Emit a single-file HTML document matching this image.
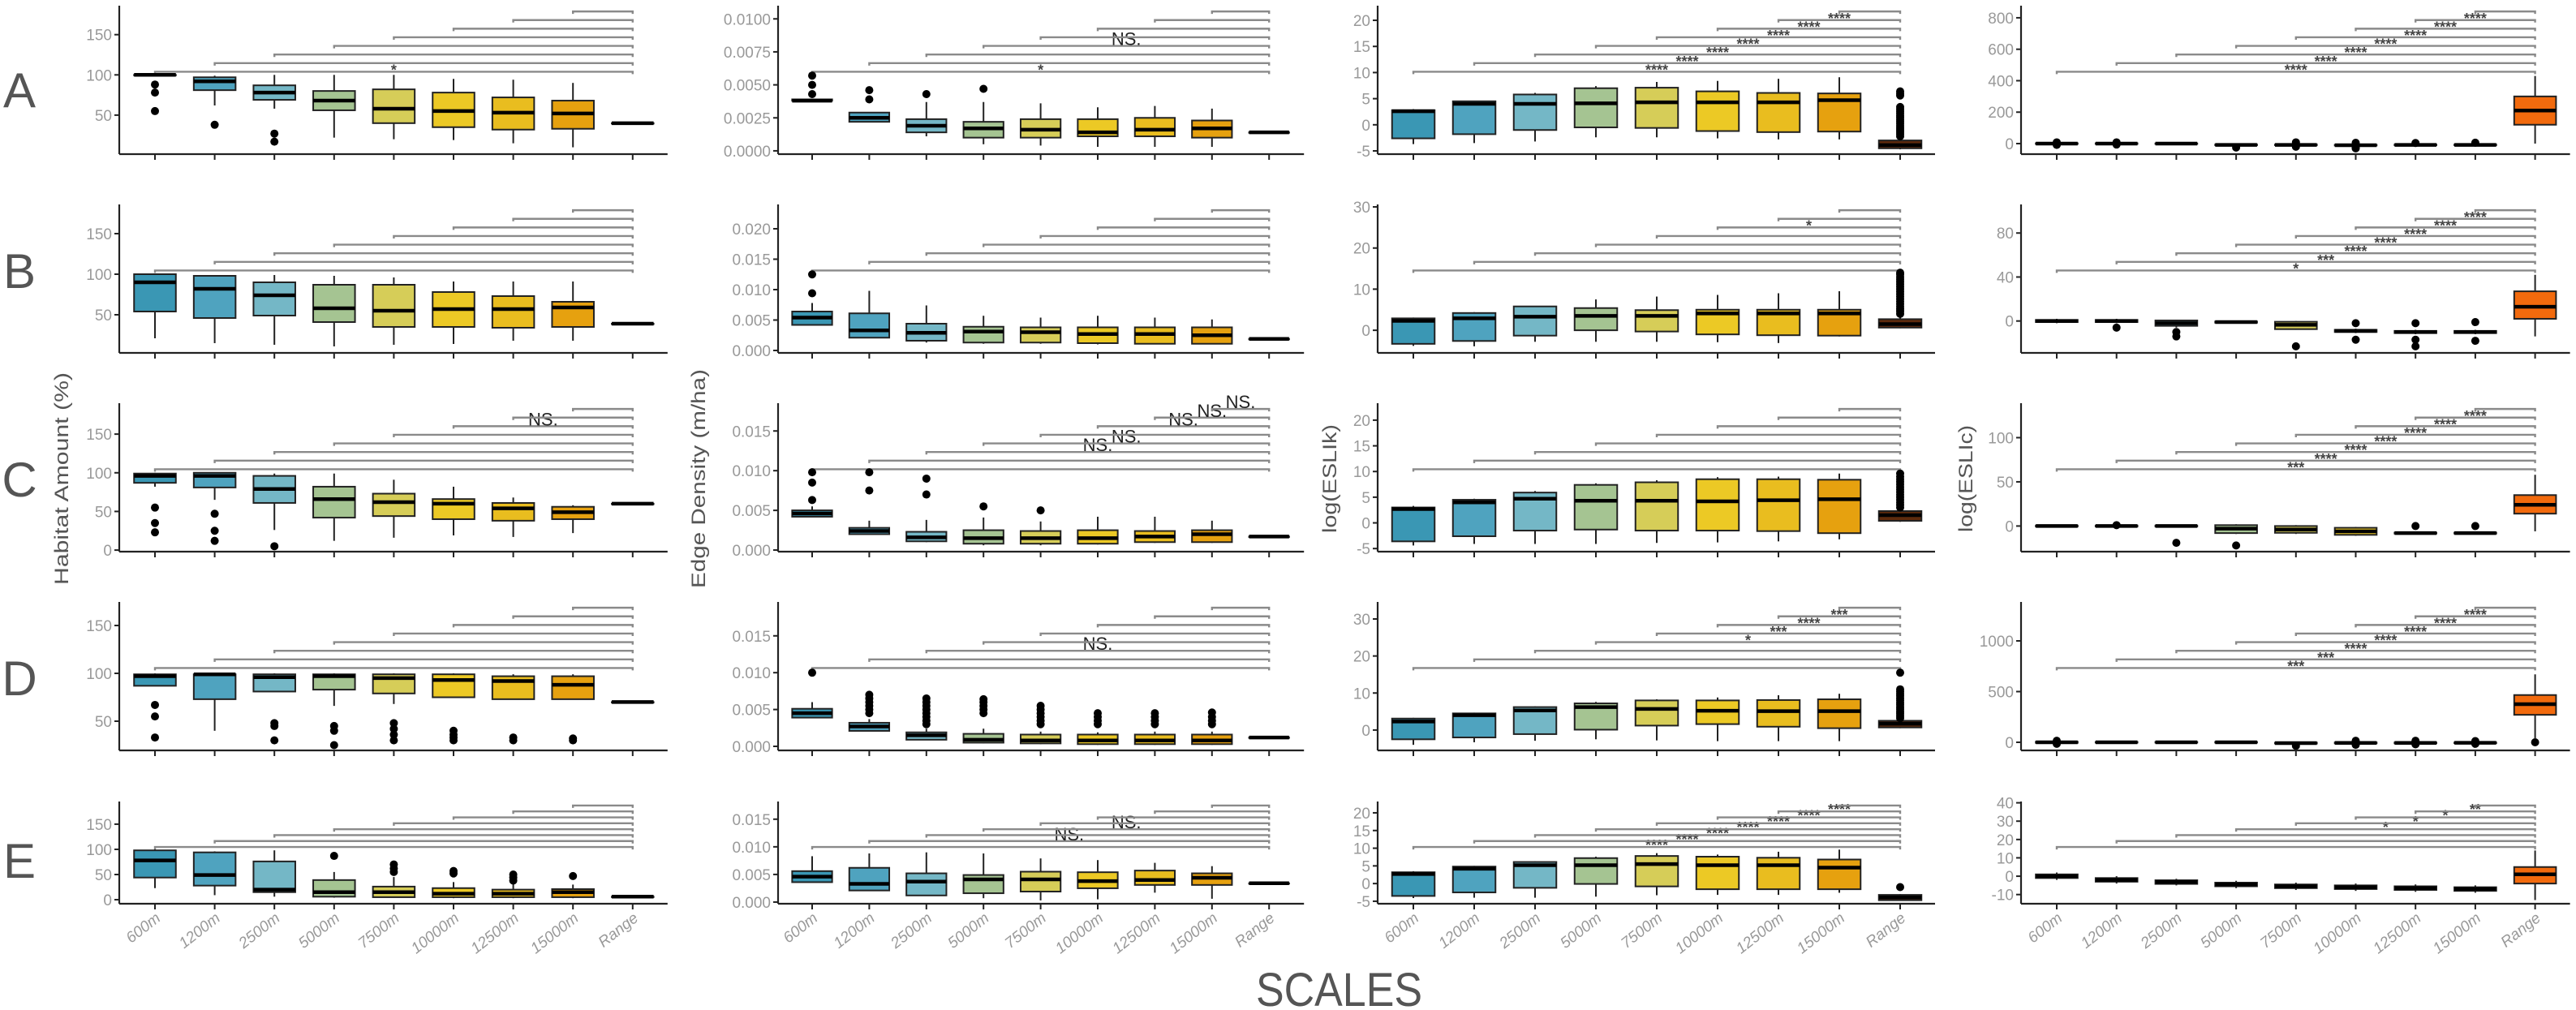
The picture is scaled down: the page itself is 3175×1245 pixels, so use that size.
<!DOCTYPE html>
<html><head><meta charset="utf-8"><title>Boxplots by scale</title>
<style>html,body{margin:0;padding:0;background:#fff;}svg{display:block;}</style></head>
<body>
<svg id="chart" xmlns="http://www.w3.org/2000/svg" width="3175" height="1245" viewBox="0 0 3175 1245" font-family="Liberation Sans, DejaVu Sans, sans-serif">
<rect width="3175" height="1245" fill="#fff"/>
<text x="24" y="132" font-size="60" fill="#555" text-anchor="middle">A</text>
<text x="24" y="355" font-size="60" fill="#555" text-anchor="middle">B</text>
<text x="24" y="612" font-size="60" fill="#555" text-anchor="middle">C</text>
<text x="24" y="857" font-size="60" fill="#555" text-anchor="middle">D</text>
<text x="24" y="1082" font-size="60" fill="#555" text-anchor="middle">E</text>
<text transform="translate(84,590) rotate(-90)" font-size="24" fill="#555" text-anchor="middle" textLength="262" lengthAdjust="spacingAndGlyphs">Habitat Amount (%)</text>
<text transform="translate(869,590) rotate(-90)" font-size="24" fill="#555" text-anchor="middle" textLength="270" lengthAdjust="spacingAndGlyphs">Edge Density (m/ha)</text>
<text transform="translate(1647,590) rotate(-90)" font-size="24" fill="#555" text-anchor="middle" textLength="134" lengthAdjust="spacingAndGlyphs">log(ESLIk)</text>
<text transform="translate(2431,590) rotate(-90)" font-size="24" fill="#555" text-anchor="middle" textLength="132" lengthAdjust="spacingAndGlyphs">log(ESLIc)</text>
<text x="1548" y="1240" font-size="58" fill="#555" textLength="205" lengthAdjust="spacingAndGlyphs">SCALES</text>
<g id="panels"></g>
</svg>
<script>
const groups = ['600m','1200m','2500m','5000m','7500m','10000m','12500m','15000m','Range'];

// ---- Row A ----
const statsA0 = [[100,99.5,100,100,100],[62,81,92,97,99],[58,69,78,87,100],[22,56,68,80,100],[20,40,58,82,100],[19,35,55,78,95],[15,32,53,72,94],[10,33,52,68,90],[40,40,40,40,40]];
const outA0 = [[88,78,55],[38],[27,17],[],[],[],[],[],[]];
const statsA1 = [[0.0038,0.0038,0.0038,0.0039,0.0039],[0.0022,0.0022,0.0025,0.0029,0.0029],[0.0011,0.0014,0.0019,0.0024,0.0037],[0.0005,0.001,0.0017,0.0022,0.0037],[0.0004,0.001,0.0016,0.0024,0.0036],[0.0003,0.0011,0.0014,0.0024,0.0033],[0.0003,0.0011,0.0016,0.0025,0.0034],[0.0003,0.001,0.0017,0.0023,0.0032],[0.0014,0.0014,0.0014,0.0014,0.0014]];
const outA1 = [[0.0057,0.005,0.0043],[0.0046,0.0039],[0.0043],[0.0047],[],[],[],[],[]];
const statsA2 = [[-3.7,-2.6,2.6,2.8,3.0],[-3.5,-1.8,4.0,4.5,4.6],[-3.2,-1.0,4.0,5.8,6.1],[-2.4,-0.5,4.1,7.0,7.4],[-2.4,-0.6,4.3,7.1,8.2],[-2.6,-1.2,4.3,6.4,8.4],[-2.8,-1.4,4.3,6.1,8.8],[-2.8,-1.3,4.7,6.0,9.1],[-4.7,-4.5,-3.9,-3.0,-2.6]];
const outA2 = [[],[],[],[],[],[],[],[],[-2.2,-1.8,-1.4,-1,-0.6,-0.2,0.2,0.6,1,1.4,1.8,2.2,2.6,3,3.4,5.6,6,6.4]];
const statsA3 = [[-4,-2,0,2,4],[-4,-2,0,2,4],[-3,-2,0,1,3],[-12,-10,-8,-6,-4],[-12,-10,-8,-6,-4],[-14,-12,-10,-8,-6],[-12,-10,-8,-6,-4],[-12,-10,-8,-6,-4],[0,120,210,300,430]];
const outA3 = [[8,-8],[8,-6],[],[-25],[8,-20],[5,-25,-30],[4],[6],[]];

// ---- Row B ----
const statsB0 = [[21,54,90,100,100],[15,46,82,98,99],[13,49,74,90,99],[11,41,58,87,98],[13,35,55,87,96],[14,35,57,78,91],[18,34,57,73,91],[18,35,59,66,91],[39,39,39,39,39]];
const outB0 = [[],[],[],[],[],[],[],[],[]];
const statsB1 = [[0.0042,0.0042,0.0054,0.0064,0.0078],[0.0021,0.0021,0.0033,0.0061,0.0098],[0.0013,0.0016,0.0029,0.0044,0.0074],[0.0011,0.0013,0.0031,0.0039,0.0057],[0.0011,0.0013,0.003,0.0038,0.0054],[0.001,0.0012,0.0027,0.0038,0.0057],[0.001,0.0011,0.0027,0.0038,0.0054],[0.001,0.0011,0.0025,0.0038,0.0051],[0.0019,0.0019,0.0019,0.0019,0.0019]];
const outB1 = [[0.0094,0.0125],[],[],[],[],[],[],[],[]];
const statsB2 = [[-3.8,-3.3,2.3,2.9,3.1],[-3.9,-2.6,2.9,4.2,4.4],[-2.8,-1.3,3.3,5.8,5.9],[-2.8,0,3.5,5.4,7.5],[-2.8,-0.3,3.5,4.9,8.2],[-2.9,-1.0,4.1,5.0,8.6],[-3.1,-1.2,4.1,5.0,9.0],[-1.5,-1.3,4.1,5.0,9.5],[0.5,0.65,1.5,2.7,3.6]];
const outB2 = [[],[],[],[],[],[],[],[],[4,4.6,5.2,5.8,6.4,7,7.6,8.2,8.8,9.4,10,10.6,11.2,11.8,12.4,13,13.6,14]];
const statsB3 = [[-2,-1,0,1,2],[-2,-1,0,1,2],[-6,-4.4,-2,0.5,1],[-2,-1.5,-1,-0.5,0],[-8,-7.4,-3.5,-0.7,0],[-11,-10,-9,-8,-7],[-12,-11,-10,-9,-8],[-12,-11,-10,-9,-8],[-14,2,13,27,42]];
const outB3 = [[],[-6],[-10,-14],[],[-23],[-2,-17],[-2,-17,-23],[-1,-18],[]];

// ---- Row C ----
const statsC0 = [[82,87,96,99,100],[65,81,96,100,100],[26,61,79,96,99],[12,42,66,82,99],[16,44,62,73,91],[19,40,60,66,82],[17,38,54,61,68],[22,40,49,56,58],[60,60,60,60,60]];
const outC0 = [[55,35,23],[47,25,12],[5],[],[],[],[],[],[]];
const statsC1 = [[0.0042,0.0042,0.0046,0.005,0.0055],[0.002,0.002,0.0024,0.0028,0.0037],[0.001,0.0011,0.0016,0.0023,0.0038],[0.0006,0.0008,0.0015,0.0025,0.0041],[0.0006,0.0008,0.0015,0.0024,0.0036],[0.0007,0.0008,0.0015,0.0025,0.0042],[0.0009,0.001,0.0017,0.0024,0.0042],[0.0009,0.001,0.002,0.0025,0.0037],[0.0017,0.0017,0.0017,0.0017,0.0017]];
const outC1 = [[0.0063,0.0085,0.0098],[0.0075,0.0098],[0.007,0.009],[0.0055],[0.005],[],[],[],[]];
const statsC2 = [[-4.4,-3.6,2.7,3.0,3.3],[-4.1,-2.6,4.0,4.5,4.7],[-4.1,-1.5,4.7,5.9,6.2],[-4.1,-1.3,4.3,7.4,7.7],[-3.9,-1.5,4.3,7.9,8.3],[-3.8,-1.5,4.2,8.5,8.9],[-3.6,-1.6,4.4,8.5,9.0],[-3.2,-2.0,4.6,8.4,9.6],[0.2,0.4,1.5,2.3,2.6]];
const outC2 = [[],[],[],[],[],[],[],[],[3,3.5,4,4.5,5,5.5,6,6.5,7,7.5,8,8.5,9,9.6]];
const statsC3 = [[-1,-0.5,0,0.5,1],[-1,-0.5,0,0.5,1],[-1,-0.5,0,0.5,1],[-9,-8,-3,1,2],[-9,-7.7,-4,0,1],[-11,-10,-6,-2,-1],[-9,-8.5,-8,-7.5,-7],[-9,-8.5,-8,-7.5,-7],[-6,14,24,35,58]];
const outC3 = [[],[1],[-19],[-22],[],[],[0],[0],[]];

// ---- Row D ----
const statsD0 = [[87,87,97,99,100],[40,73,99,99,100],[81,81,96,99,100],[66,83,97,99,100],[68,79,95,99,100],[75,75,93,99,100],[73,73,92,97,99],[73,73,88,97,99],[70,70,70,70,70]];
const outD0 = [[67,55,33],[],[48,45,30],[45,40,25],[48,42,36,30],[40,36,33,30],[33,30],[32,30],[]];
const statsD1 = [[0.0039,0.0039,0.0045,0.0051,0.006],[0.0021,0.0021,0.0027,0.0032,0.0037],[0.0009,0.0009,0.0015,0.0019,0.0024],[0.0004,0.0005,0.0009,0.0017,0.0024],[0.0003,0.0004,0.0008,0.0016,0.002],[0.0002,0.0003,0.0008,0.0016,0.0019],[0.0002,0.0003,0.0008,0.0016,0.002],[0.0002,0.0003,0.0008,0.0016,0.002],[0.0012,0.0012,0.0012,0.0012,0.0012]];
const outD1 = [[0.01],[0.0045,0.005,0.0055,0.006,0.0065,0.007],[0.003,0.0035,0.004,0.0045,0.005,0.0055,0.006,0.0065],[0.0045,0.005,0.0055,0.006,0.0064],[0.003,0.0035,0.004,0.0045,0.005,0.0055],[0.003,0.0035,0.004,0.0045],[0.003,0.0035,0.004,0.0045],[0.003,0.0035,0.004,0.0046],[]];
const statsD2 = [[-4.0,-2.5,2.3,3.1,3.3],[-3.3,-2.0,4.0,4.5,4.7],[-2.9,-1.1,5.3,6.2,6.4],[-2.5,0.1,6.2,7.2,7.6],[-2.8,1.2,5.7,8.0,8.3],[-3.0,1.6,5.2,8.0,8.8],[-3.0,0.9,5.1,8.1,9.4],[-3.0,0.5,5.1,8.3,9.8],[0.5,0.7,1.7,2.5,2.8]];
const outD2 = [[],[],[],[],[],[],[],[],[3.2,3.8,4.4,5,5.6,6.2,6.8,7.4,8,8.6,9.2,9.8,10.4,11,15.5]];
const statsD3 = [[-8,-5,0,5,8],[-5,-3,0,3,5],[-5,-3,0,3,5],[-5,-3,0,3,5],[-15,-12,-8,-4,-2],[-12,-10,-6,-2,0],[-12,-10,-6,-2,0],[-10,-8,-5,-2,0],[40,271,376,466,670]];
const outD3 = [[15,-15],[],[],[],[-35],[15,-25],[15,-20],[12,-15],[0]];

// ---- Row E ----
const statsE0 = [[23,44,78,98,100],[9,28,49,94,96],[6,15,20,76,98],[4,6,15,39,55],[4,5,15,26,45],[3,5,12,23,35],[3,5,12,20,32],[3,5,15,21,30],[6,6,6,6,6]];
const outE0 = [[],[],[],[87],[55,62,70],[52,57],[38,44,50],[47],[]];
const statsE1 = [[0.0036,0.0036,0.0046,0.0056,0.0083],[0.0021,0.0021,0.0033,0.0062,0.0088],[0.0012,0.0012,0.0037,0.0052,0.009],[0.0007,0.0016,0.0041,0.0049,0.0088],[0.0003,0.0019,0.0041,0.0055,0.0079],[0.0005,0.0025,0.0038,0.0054,0.0076],[0.0017,0.0031,0.004,0.0057,0.0071],[0.0006,0.0031,0.0044,0.0052,0.0065],[0.0034,0.0034,0.0034,0.0034,0.0034]];
const outE1 = [[],[],[],[],[],[],[],[],[]];
const statsE2 = [[-4.1,-3.5,2.7,3.2,3.5],[-4.0,-2.5,4.2,4.8,5.0],[-4.0,-1.2,5.2,6.1,6.3],[-3.7,-0.1,5.2,7.2,7.6],[-3.3,-0.8,5.5,7.8,8.6],[-3.2,-1.6,5.2,7.6,8.2],[-3.2,-1.6,5.2,7.3,9.0],[-2.6,-1.6,4.5,6.8,9.6],[-4.8,-4.7,-3.9,-3.2,-3.0]];
const outE2 = [[],[],[],[],[],[],[],[],[-1.0]];
const statsE3 = [[-2,-1,0,1,2],[-4,-3,-2,-1,0],[-5,-4.2,-3.2,-2.2,-1.4],[-6.5,-5.5,-4.5,-3.5,-2.5],[-7.5,-6.5,-5.5,-4.5,-3.5],[-8,-7,-6,-5,-4],[-8.5,-7.5,-6.5,-5.5,-4.5],[-9,-8,-7,-6,-5],[-13,-4,1,5,14]];
const outE3 = [[],[],[],[],[],[],[],[],[]];

// ---- y-axis ticks ----
const ticksA0 = [50,100,150], ticksA1 = [0,0.0025,0.005,0.0075,0.01], ticksA2 = [-5,0,5,10,15,20], ticksA3 = [0,200,400,600,800];
const ticksB0 = [50,100,150], ticksB1 = [0,0.005,0.01,0.015,0.02], ticksB2 = [0,10,20,30], ticksB3 = [0,40,80];
const ticksC0 = [0,50,100,150], ticksC1 = [0,0.005,0.01,0.015], ticksC2 = [-5,0,5,10,15,20], ticksC3 = [0,50,100];
const ticksD0 = [50,100,150], ticksD1 = [0,0.005,0.01,0.015], ticksD2 = [0,10,20,30], ticksD3 = [0,500,1000];
const ticksE0 = [0,50,100,150], ticksE1 = [0,0.005,0.01,0.015], ticksE2 = [-5,0,5,10,15,20], ticksE3 = [-10,0,10,20,30,40];

// ---- significance labels (bracket k: group k vs Range) ----
const S4 = '****';
const sigA0 = ['*','','','','','','',''], sigA1 = ['*','','','NS.','','','',''], sigA2 = [S4,S4,S4,S4,S4,S4,S4,''], sigA3 = [S4,S4,S4,S4,S4,S4,S4,''];
const sigB0 = ['','','','','','','',''], sigB1 = ['','','','','','','',''], sigB2 = ['','','','','','*','',''], sigB3 = ['*','***',S4,S4,S4,S4,S4,''];
const sigC0 = ['','','','','','NS.','',''], sigC1 = ['','','NS.','NS.','','NS.','NS.','NS.'], sigC2 = ['','','','','','','',''], sigC3 = ['***',S4,S4,S4,S4,S4,S4,''];
const sigD0 = ['','','','','','','',''], sigD1 = ['','','NS.','','','','',''], sigD2 = ['','','','*','***',S4,'***',''], sigD3 = ['***','***',S4,S4,S4,S4,S4,''];
const sigE0 = ['','','','','','','',''], sigE1 = ['','NS.','','NS.','','','',''], sigE2 = [S4,S4,S4,S4,S4,S4,S4,''], sigE3 = ['','','','*','*','*','**',''];

// ---- layout (not data) ----
const cols = [{ax:147,x0:191,dx:73.6},{ax:959,x0:1001,dx:70.4},{ax:1698,x0:1742,dx:75},{ax:2491,x0:2535,dx:73.7}];
const rows = [{t:7,b:190},{t:252,b:435},{t:497,b:680},{t:742,b:925},{t:988,b:1114}];
const fills = ['#3a97b4','#4fa3bf','#74b7c6','#a5c492','#d6cd58','#ecc925','#e9bd1f','#e6a10f'];
const rangeFill = ['#000','#000','#5e2a0c','#f26a0d'];
const panels = [
 {r:0,c:0,d:[1.5,186],tk:ticksA0,dec:0,s:statsA0,o:outA0,g:sigA0},
 {r:0,c:1,d:[-0.00025,0.011],tk:ticksA1,dec:4,s:statsA1,o:outA1,g:sigA1},
 {r:0,c:2,d:[-5.62,22.8],tk:ticksA2,dec:0,s:statsA2,o:outA2,g:sigA2},
 {r:0,c:3,d:[-67,877],tk:ticksA3,dec:0,s:statsA3,o:outA3,g:sigA3},
 {r:1,c:0,d:[3,186],tk:ticksB0,dec:0,s:statsB0,o:outB0,g:sigB0},
 {r:1,c:1,d:[-0.0004,0.024],tk:ticksB1,dec:3,s:statsB1,o:outB1,g:sigB1},
 {r:1,c:2,d:[-5.5,30.6],tk:ticksB2,dec:0,s:statsB2,o:outB2,g:sigB2},
 {r:1,c:3,d:[-29,106],tk:ticksB3,dec:0,s:statsB3,o:outB3,g:sigB3},
 {r:2,c:0,d:[-2,190],tk:ticksC0,dec:0,s:statsC0,o:outC0,g:sigC0},
 {r:2,c:1,d:[-0.0002,0.0185],tk:ticksC1,dec:3,s:statsC1,o:outC1,g:sigC1},
 {r:2,c:2,d:[-5.6,23.3],tk:ticksC2,dec:0,s:statsC2,o:outC2,g:sigC2},
 {r:2,c:3,d:[-29,139],tk:ticksC3,dec:0,s:statsC3,o:outC3,g:sigC3},
 {r:3,c:0,d:[19.5,174.6],tk:ticksD0,dec:0,s:statsD0,o:outD0,g:sigD0},
 {r:3,c:1,d:[-0.00055,0.0196],tk:ticksD1,dec:3,s:statsD1,o:outD1,g:sigD1},
 {r:3,c:2,d:[-5.5,34.6],tk:ticksD2,dec:0,s:statsD2,o:outD2,g:sigD2},
 {r:3,c:3,d:[-80,1384],tk:ticksD3,dec:0,s:statsD3,o:outD3,g:sigD3},
 {r:4,c:0,d:[-8,195],tk:ticksE0,dec:0,s:statsE0,o:outE0,g:sigE0},
 {r:4,c:1,d:[-0.0003,0.0182],tk:ticksE1,dec:3,s:statsE1,o:outE1,g:sigE1},
 {r:4,c:2,d:[-5.7,23.2],tk:ticksE2,dec:0,s:statsE2,o:outE2,g:sigE2},
 {r:4,c:3,d:[-15,40.7],tk:ticksE3,dec:0,s:statsE3,o:outE3,g:sigE3}
];

const NS = 'http://www.w3.org/2000/svg';
const root = document.getElementById('panels');
function mk(tag, attrs, parent){
  const e = document.createElementNS(NS, tag);
  for (const k in attrs) e.setAttribute(k, attrs[k]);
  parent.appendChild(e);
  return e;
}
const rowL = ['a','b','c','d','e'];

panels.forEach(p => {
  const C = cols[p.c], R = rows[p.r];
  const H = R.b - R.t;
  const y = v => R.b - (v - p.d[0]) / (p.d[1] - p.d[0]) * H;
  const x = i => C.x0 + i * C.dx;
  const bw = C.dx * 0.7;
  const g = mk('g', {}, root);
  
  

  for (let k = 0; k < 8; k++) {
    const ly = R.t + H * 0.445 - k * H * 0.058;
    const br = mk('path', {d:'M'+x(k)+','+(ly+3)+'V'+ly+'H'+x(8)+'V'+(ly+3), fill:'none', stroke:'#8a8a8a', 'stroke-width':2.4}, g);
    
    
    if (p.g[k]) {
      const isNS = p.g[k] === 'NS.';
      const t = mk('text', {x:(x(k)+x(8))/2, y: isNS ? ly-1 : ly+4, 'font-size': isNS ? 22 : 18, 'font-weight': isNS ? 'normal' : 'bold', fill: isNS ? '#222' : '#444', 'text-anchor':'middle'}, g);
      t.textContent = p.g[k];
      
      
    }
  }

  p.s.forEach((st, i) => {
    const cx = x(i);
    const fill = i < 8 ? fills[i] : rangeFill[p.c];
    const bg = mk('g', {}, g);
    
    
    mk('line', {x1:cx, x2:cx, y1:y(st[4]), y2:y(st[3]), stroke:'#222', 'stroke-width':2}, bg);
    mk('line', {x1:cx, x2:cx, y1:y(st[1]), y2:y(st[0]), stroke:'#222', 'stroke-width':2}, bg);
    const top = y(st[3]), bot = y(st[1]);
    mk('rect', {x:cx-bw/2, y:top, width:bw, height:Math.max(bot-top,0.5), fill:fill, stroke:'#222', 'stroke-width':2}, bg);
    mk('line', {x1:cx-bw/2, x2:cx+bw/2, y1:y(st[2]), y2:y(st[2]), stroke:'#000', 'stroke-width':4.5}, bg);
    p.o[i].forEach(v => {
      const c = mk('circle', {cx:cx, cy:y(v), r:5, fill:'#000'}, bg);
      
      
    });
  });

  const ax = mk('g', {}, g);
  
  
  mk('line', {x1:C.ax, x2:C.ax, y1:R.t, y2:R.b, stroke:'#222', 'stroke-width':2.2}, ax);
  mk('line', {x1:C.ax, x2:x(8)+43, y1:R.b, y2:R.b, stroke:'#222', 'stroke-width':2.2}, ax);
  for (let i = 0; i < 9; i++) {
    mk('line', {x1:x(i), x2:x(i), y1:R.b, y2:R.b+7, stroke:'#222', 'stroke-width':2}, ax);
    if (p.r === 4) {
      const tl = mk('text', {transform:'translate('+(x(i)+8)+','+(R.b+20)+') rotate(-38)', 'font-size':19, fill:'#999', 'text-anchor':'end', 'font-style':'italic'}, ax);
      tl.textContent = groups[i];
      
      
    }
  }
  p.tk.forEach(v => {
    const ty = y(v);
    mk('line', {x1:C.ax-6, x2:C.ax, y1:ty, y2:ty, stroke:'#222', 'stroke-width':2}, ax);
    const t = mk('text', {x:C.ax-9, y:ty+7, 'font-size':19, fill:'#999', 'text-anchor':'end'}, ax);
    t.textContent = v.toFixed(p.dec);
    
    
  });
});
</script>
</body></html>
